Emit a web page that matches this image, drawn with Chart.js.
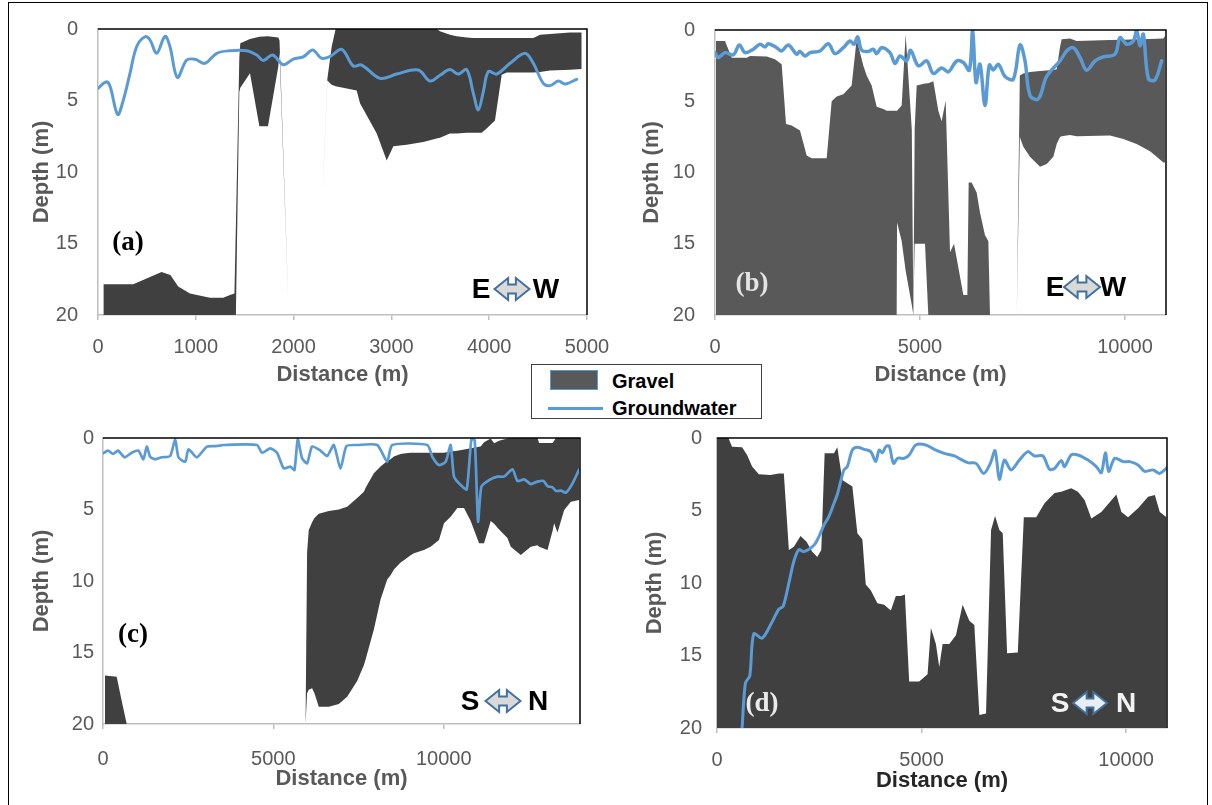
<!DOCTYPE html>
<html><head><meta charset="utf-8">
<script src="https://cdn.jsdelivr.net/npm/chart.js@4.4.0/dist/chart.umd.min.js"></script>
<style>
html,body{margin:0;padding:0;background:#fff;width:1212px;height:805px;overflow:hidden;font-family:"Liberation Sans",Arial,sans-serif;}
#frame{position:absolute;left:8px;top:2px;width:1200px;height:820px;border:1px solid #000;box-sizing:border-box;}
canvas{position:absolute;}
#legend{position:absolute;left:531px;top:364px;width:231px;height:55px;border:1px solid #404040;box-sizing:border-box;background:#fff;}
#legend .sw{position:absolute;left:18px;top:5px;width:48px;height:20px;background:#595959;border:1px solid #5b9bd5;box-sizing:border-box;}
#legend .ln{position:absolute;left:16px;top:42px;width:55px;height:3px;background:#5b9bd5;}
#legend .t{position:absolute;left:80px;font-weight:bold;font-size:20px;color:#000;line-height:20px;}
</style></head>
<body>
<div id="frame"></div>
<canvas id="ca" width="598" height="380" style="left:20px;top:10px"></canvas>
<canvas id="cb" width="560" height="380" style="left:620px;top:10px"></canvas>
<canvas id="cc" width="580" height="380" style="left:20px;top:420px"></canvas>
<canvas id="cd" width="560" height="380" style="left:620px;top:420px"></canvas>
<div id="legend"><span class="sw"></span><span class="t" style="top:6px">Gravel</span><span class="ln"></span><span class="t" style="top:33px">Groundwater</span></div>
<script>
// ---------- DATA ----------
const depthTicks = [0, 5, 10, 15, 20];
const aXTicks = [0, 1000, 2000, 3000, 4000, 5000];
const bXTicks = [0, 5000, 10000];
const cXTicks = [0, 5000, 10000];
const dXTicks = [0, 5000, 10000];

// Panel (a) E-W
const aGravelDist = [55,360,650,740,820,940,1145,1280,1350,1395,1410,1445,1455,1554,1650,1738,1844,1856,1950,2246,2345,2390,2430,2645,2679,2850,2952,3020,3156,3326,3463,3497,3599,3667,3770,3838,3923,3974,4059,4128,4179,4451,4520,4622,4826,4946];
const aGravelTop = [17.85,17.85,17.0,17.2,18.0,18.5,18.8,18.8,18.6,18.5,13.7,2.0,1.0,0.7,0.55,0.5,0.6,0.8,20,20,3.5,1.2,0,0,0,0,0,0,0,0,0,0.15,0.4,0.5,0.6,0.63,0.63,0.63,0.63,0.63,0.63,0.63,0.4,0.35,0.25,0.25];
const aGravelBase = [20,20,20,20,20,20,20,20,20,20,20,4.4,4.1,3.1,6.8,6.8,2.6,1.6,20,20,3.6,3.9,4.0,4.3,5.2,7.3,9.2,8.2,8.1,7.9,7.65,7.6,7.3,7.3,7.25,7.25,7.25,6.95,6.4,3.2,3.05,3.05,3.0,2.9,2.85,2.8];
const aWaterDist = [0,82,123,201,259,327,395,481,532,600,685,736,811,907,992,1094,1214,1350,1520,1623,1690,1786,1895,1997,2099,2195,2287,2372,2492,2611,2696,2883,3054,3275,3395,3497,3599,3684,3770,3838,3889,3940,3991,4077,4213,4366,4451,4553,4622,4707,4775,4894];
const aWaterDepth = [4.15,3.7,4.0,5.97,4.97,3.1,1.24,0.54,0.77,1.7,0.51,1.24,3.38,2.17,2.12,2.4,1.7,1.52,1.52,1.82,2.2,1.82,2.5,2.1,1.95,1.47,2.05,1.93,1.42,2.59,2.52,3.45,3.15,2.87,3.64,3.23,2.84,3.15,2.84,4.5,5.66,4.38,2.98,3.15,2.4,1.7,2.4,3.8,3.96,3.64,3.85,3.52];

// Panel (b) E-W
const bGravelDist = [24,244,407,773,854,1261,1463,1626,1732,1870,2073,2236,2358,2724,2846,2968,3130,3333,3455,3618,3699,3821,3943,4105,4187,4431,4440,4553,4650,4800,4838,4870,4919,5122,5203,5325,5447,5528,5626,5732,5830,6057,6155,6187,6260,6382,6463,6585,6667,6707,7360,7435,7520,7683,7927,8090,8252,8334,8415,8455,8659,8821,9634,9959,10284,10610,10772,10935,10975];
const bGravelTop = [0.77,0.77,1.94,1.94,1.82,1.86,2.05,2.4,6.6,6.7,7.06,8.8,9.0,9.0,5.0,4.66,4.5,3.9,0.65,2.5,3.2,3.9,5.38,5.55,5.67,5.67,5.67,5.3,0.3,7.0,19.8,7.0,3.9,3.75,3.73,3.6,5.67,6.4,4.96,15.6,15.0,18.6,18.6,10.7,10.7,11.4,12.8,14.4,14.8,20,20,3.2,3.05,2.95,2.87,2.85,2.8,2.75,1.2,0.65,0.6,0.77,0.7,0.68,0.65,0.63,0.62,0.6,0.42];
const bGravelBase = [20,20,20,20,20,20,20,20,20,20,20,20,20,20,20,20,20,20,20,20,20,20,20,20,20,20,13.5,14.8,16.9,19.3,20,15.0,15.0,15.0,20,20,20,20,20,20,20,20,20,20,20,20,20,20,20,20,20,7.5,8.2,8.9,9.6,9.4,8.9,8.0,7.5,7.45,7.37,7.45,7.4,7.65,8.0,8.5,8.9,9.3,9.3];
const bWaterDist = [0,81,244,447,594,732,935,1098,1220,1301,1504,1626,1789,1992,2073,2195,2317,2561,2764,2927,3130,3293,3390,3480,3577,3740,3862,3943,4065,4268,4390,4512,4675,4772,4960,5163,5325,5528,5691,5894,6057,6203,6284,6366,6463,6585,6691,6788,6910,7073,7276,7439,7561,7683,7886,8090,8415,8577,8740,8902,9065,9268,9471,9756,9878,10041,10203,10285,10366,10447,10569,10732,10894];
const bWaterDepth = [1.59,1.93,1.59,1.74,1.05,1.59,1.35,1.0,1.19,0.96,1.24,1.47,1.05,1.7,1.5,1.82,1.59,1.47,0.96,1.66,1.24,0.77,1.0,0.49,1.42,1.5,1.35,1.66,1.24,1.59,2.35,1.82,2.17,1.42,2.52,2.17,3.05,2.66,2.94,2.17,2.28,2.82,0.07,3.68,2.4,5.3,2.45,2.8,2.4,3.26,3.45,1.05,2.17,4.6,4.84,3.26,2.17,1.47,1.24,1.93,2.82,2.17,1.89,1.7,0.54,1.0,0.77,0.02,1.1,0.3,3.4,3.5,2.17];

// Panel (c) S-N
const cGravelDist = [59,402,550,696,5945,5990,6039,6137,6206,6333,6627,6921,7166,7460,7656,7705,7950,8146,8342,8440,8538,8734,8832,9028,9126,9420,9616,9861,10008,10204,10400,10596,10792,11037,11086,11184,11380,11478,11625,11870,11968,12262,12556,12654,12752,12800,13046,13194,13242,13290,13340,13536,13732,13977];
const cGravelTop = [16.6,16.7,18.4,20,20,8.0,6.43,5.9,5.6,5.3,5.1,5.0,4.8,4.2,3.75,3.5,2.47,2.0,1.6,1.49,1.3,1.12,1.08,1.03,1.03,1.03,1.03,1.03,1.03,0.95,0.89,0.8,0.72,0.62,0.6,0.3,0.03,0.37,0.2,0.03,0,0,0,0,0,0.35,0.35,0.35,0.2,0,0,0,0,0];
const cGravelBase = [20,20,20,20,20,17.85,17.6,17.5,17.85,18.8,18.8,18.6,18.1,17.0,15.9,15.5,13.4,11.3,9.9,9.6,9.2,8.7,8.55,8.2,8.06,7.83,7.6,7.13,5.97,5.5,4.9,4.9,5.8,7.36,7.36,7.36,5.8,6.0,6.4,7.0,7.6,8.18,7.6,7.55,7.5,7.6,7.83,6.5,5.97,6.3,6.6,5.03,4.45,4.33];
const cWaterDist = [0,147,294,441,637,843,1040,1187,1285,1383,1530,1725,1971,2118,2216,2412,2510,2755,3049,3343,3540,4520,4667,4912,5108,5304,5500,5618,5716,5843,5990,6137,6382,6578,6774,6970,7146,7460,8048,8342,8489,9518,9665,9861,10057,10204,10302,10498,10674,10812,10910,11008,11106,11331,11576,11772,12017,12164,12360,12556,12752,12929,13046,13194,13292,13439,13586,13782,13977];
const cWaterDepth = [1.07,0.88,1.12,0.88,1.35,1.03,0.88,1.49,0.6,1.31,1.49,1.35,1.26,0.1,1.35,1.66,0.79,1.35,0.6,0.56,0.49,0.49,1.03,0.72,1.03,2.12,2.0,2.24,0.1,1.42,1.77,0.6,0.88,1.26,0.49,2.14,0.56,0.49,0.49,1.66,0.49,0.49,1.31,1.89,1.66,0.49,2.7,3.29,3.59,0.1,0.14,5.85,3.4,2.94,2.7,2.7,2.19,3.0,2.89,3.22,3.05,3.0,3.36,3.45,3.7,3.68,3.82,3.17,2.19];

// Panel (d) S-N (gravel extends to 20 m)
const dGravelDist = [0,278,368,613,735,858,1022,1307,1512,1634,1757,1879,2042,2189,2328,2451,2549,2631,2860,2941,3064,3309,3431,3554,3636,3758,3922,4086,4249,4372,4494,4593,4698,4943,5147,5229,5351,5433,5515,5678,5841,6004,6168,6290,6413,6576,6699,6797,6903,6985,7091,7353,7500,7802,8006,8251,8414,8659,8823,8986,9150,9395,9762,9885,10048,10293,10538,10702,10824,10988];
const dGravelTop = [0,0,0.6,0.64,1.17,1.97,2.5,2.55,2.44,2.44,7.72,7.5,6.76,7.15,7.84,8.2,7.72,1.06,1.06,0.64,2.9,3.35,6.57,7.0,10.1,10.5,11.4,11.5,11.9,10.9,10.9,10.8,16.8,16.8,16.3,13.1,14.2,15.8,14.2,14.2,13.6,11.5,12.6,12.9,19.1,19.0,6.34,5.38,6.34,6.57,14.85,14.8,5.47,5.47,4.5,3.8,3.7,3.47,3.7,4.27,5.55,5.1,3.9,5.1,5.47,4.85,4.05,3.93,5.1,5.47];
const dWaterDist = [613,695,801,899,1103,1307,1512,1618,1757,1879,2001,2124,2369,2491,2614,2737,2860,2941,3023,3104,3186,3309,3431,3595,3758,3880,3962,4044,4126,4208,4314,4412,4576,4698,4861,5106,5310,5555,5800,6127,6331,6519,6682,6797,6903,7026,7189,7393,7598,7761,7965,8128,8251,8414,8496,8659,8823,9068,9272,9395,9493,9575,9722,9926,10089,10293,10456,10660,10824,11028];
const dWaterDepth = [20.0,16.9,16.4,13.5,13.8,12.9,11.8,11.6,10.0,8.5,7.7,7.84,7.4,6.8,6.0,5.4,4.5,3.9,3.0,2.2,1.97,0.83,0.64,0.78,0.94,1.63,0.83,1.01,0.6,0.55,1.75,1.4,1.4,1.17,0.48,0.48,0.78,1.06,1.24,1.7,1.75,2.44,1.75,0.87,2.85,1.52,2.2,1.52,0.94,1.24,1.24,2.16,2.1,1.56,1.97,1.17,1.17,1.52,1.97,2.39,1.01,2.3,1.4,1.63,1.63,1.86,2.3,2.2,2.44,1.97];

// ---------- DRAWING ----------
const TICK_FONT = {family: '"Liberation Sans", Arial, sans-serif', size: 20};
const TITLE_FONT = {family: '"Liberation Sans", Arial, sans-serif', size: 22, weight: 'bold'};

function drawArrow(ctx, cx, cy, w, h, fill) {
  const hl = h * 0.62, sh = h * 0.2;
  const l = cx - w / 2, r = cx + w / 2;
  ctx.beginPath();
  ctx.moveTo(l, cy);
  ctx.lineTo(l + hl, cy - h / 2);
  ctx.lineTo(l + hl, cy - sh);
  ctx.lineTo(r - hl, cy - sh);
  ctx.lineTo(r - hl, cy - h / 2);
  ctx.lineTo(r, cy);
  ctx.lineTo(r - hl, cy + h / 2);
  ctx.lineTo(r - hl, cy + sh);
  ctx.lineTo(l + hl, cy + sh);
  ctx.lineTo(l + hl, cy + h / 2);
  ctx.closePath();
  ctx.fillStyle = fill;
  ctx.fill();
  ctx.lineWidth = 2;
  ctx.strokeStyle = '#41719c';
  ctx.stroke();
}

const panelDeco = {
  id: 'panelDeco',
  afterDraw(chart, args, o) {
    const ctx = chart.ctx, a = chart.chartArea;
    ctx.save();
    ctx.strokeStyle = '#000';
    ctx.lineWidth = 1.5;
    ctx.beginPath();
    ctx.moveTo(a.left, a.top);
    ctx.lineTo(a.right, a.top);
    ctx.lineTo(a.right, a.bottom);
    ctx.stroke();
    ctx.textAlign = 'center';
    ctx.textBaseline = 'middle';
    ctx.font = 'bold 27px "Liberation Serif", "Times New Roman", serif';
    ctx.fillStyle = o.labelColor;
    ctx.fillText(o.label, o.labelX, o.labelY);
    ctx.font = 'bold 28px "Liberation Sans", Arial, sans-serif';
    ctx.fillStyle = o.dirColor;
    ctx.fillText(o.from, o.fromX, o.dirY);
    ctx.fillText(o.to, o.toX, o.dirY);
    drawArrow(ctx, o.arrowX, o.dirY - 1, o.arrowW, 22, o.arrowFill);
    ctx.restore();
  }
};

function pts(xs, ys) { return xs.map((x, i) => ({x: x, y: ys[i]})); }

function build(id, p) {
  const ds = [];
  ds.push({label: 'Gravel top', data: pts(p.gDist, p.gTop), borderWidth: 0, borderColor: 'rgba(0,0,0,0)',
    pointRadius: 0, backgroundColor: p.gColor, fill: p.gBase ? false : {value: 20}, tension: 0, order: 2});
  if (p.gBase) ds.push({label: 'Gravel', data: pts(p.gDist, p.gBase), borderWidth: 0, borderColor: 'rgba(0,0,0,0)',
    pointRadius: 0, backgroundColor: p.gColor, fill: '-1', tension: 0, order: 1});
  ds.push({label: 'Groundwater', data: pts(p.wDist, p.wDepth), borderColor: '#5b9bd5', borderWidth: p.wWidth,
    pointRadius: 0, fill: false, tension: p.tension, order: 0, borderJoinStyle: 'round', borderCapStyle: 'round'});
  return new Chart(document.getElementById(id), {
    type: 'line',
    data: {datasets: ds},
    plugins: [panelDeco],
    options: {
      responsive: false, animation: false, devicePixelRatio: 1,
      layout: {padding: {left: 0, right: p.padR, top: p.padT, bottom: 0}},
      plugins: {legend: {display: false}, tooltip: {enabled: false}, panelDeco: p.deco},
      scales: {
        x: {
          type: 'linear', min: 0, max: p.xMax,
          afterBuildTicks: s => { s.ticks = p.xTicks.map(v => ({value: v})); },
          afterFit: s => { s.height = p.xH; s.paddingLeft = 0; s.paddingRight = 0; },
          ticks: {font: TICK_FONT, color: '#595959', padding: p.xTickPad, autoSkip: false, maxRotation: 0, callback: v => String(v)},
          grid: {drawOnChartArea: false, drawTicks: true, tickLength: 5, color: '#bfbfbf', lineWidth: 1.5},
          border: {display: true, color: '#bfbfbf', width: 1.5},
          title: {display: true, text: 'Distance (m)', font: TITLE_FONT, color: p.xTitleColor, padding: {top: 0, bottom: p.xTitlePad}}
        },
        y: {
          type: 'linear', min: 0, max: 20, reverse: true,
          afterBuildTicks: s => { s.ticks = depthTicks.map(v => ({value: v})); },
          afterFit: s => { s.width = p.yW; s.paddingTop = 0; s.paddingBottom = 0; },
          ticks: {font: TICK_FONT, color: '#595959', padding: p.yTickPad, callback: v => String(v)},
          grid: {display: false, drawTicks: false},
          border: {display: true, color: '#bfbfbf', width: 1.5},
          title: {display: true, text: 'Depth (m)', font: TITLE_FONT, color: '#595959', padding: {top: p.yTitlePad, bottom: 0}}
        }
      }
    }
  });
}

build('ca', {gDist: aGravelDist, gTop: aGravelTop, gBase: aGravelBase, gColor: '#404040',
  wDist: aWaterDist, wDepth: aWaterDepth, wWidth: 3, tension: 0.35, xMax: 5000, xTicks: aXTicks,
  padR: 31, padT: 19, xH: 75, yW: 78, xTickPad: 15, xTitlePad: 2, yTickPad: 20, yTitlePad: 9, xTitleColor: '#595959',
  deco: {label: '(a)', labelX: 108, labelY: 233, labelColor: '#000', from: 'E', to: 'W', fromX: 461, toX: 526, dirY: 280, arrowX: 492, arrowW: 35, dirColor: '#000', arrowFill: '#d9d9d9'}});

build('cb', {gDist: bGravelDist, gTop: bGravelTop, gBase: bGravelBase, gColor: '#595959',
  wDist: bWaterDist, wDepth: bWaterDepth, wWidth: 3.5, tension: 0.35, xMax: 11000, xTicks: bXTicks,
  padR: 14, padT: 20, xH: 75, yW: 95, xTickPad: 15, xTitlePad: 2, yTickPad: 20, yTitlePad: 19, xTitleColor: '#595959',
  deco: {label: '(b)', labelX: 132, labelY: 274, labelColor: '#e3e3e3', from: 'E', to: 'W', fromX: 435, toX: 493, dirY: 278, arrowX: 462, arrowW: 36, dirColor: '#000', arrowFill: '#d9d9d9'}});

build('cc', {gDist: cGravelDist, gTop: cGravelTop, gBase: cGravelBase, gColor: '#404040',
  wDist: cWaterDist, wDepth: cWaterDepth, wWidth: 2.7, tension: 0.2, xMax: 14000, xTicks: cXTicks,
  padR: 20, padT: 18, xH: 76, yW: 83, xTickPad: 18, xTitlePad: 8, yTickPad: 9, yTitlePad: 9, xTitleColor: '#595959',
  deco: {label: '(c)', labelX: 113, labelY: 215, labelColor: '#000', from: 'S', to: 'N', fromX: 450, toX: 518, dirY: 282, arrowX: 483, arrowW: 35, dirColor: '#000', arrowFill: '#d9d9d9'}});

build('cd', {gDist: dGravelDist, gTop: dGravelTop, gBase: null, gColor: '#404040',
  wDist: dWaterDist, wDepth: dWaterDepth, wWidth: 3, tension: 0.3, xMax: 11000, xTicks: dXTicks,
  padR: 13, padT: 18, xH: 72, yW: 97, xTickPad: 15, xTitlePad: 6, yTickPad: 15, yTitlePad: 22, xTitleColor: '#262626',
  deco: {label: '(d)', labelX: 142, labelY: 284, labelColor: '#eaeaea', from: 'S', to: 'N', fromX: 440, toX: 506, dirY: 284, arrowX: 470, arrowW: 34, dirColor: '#f2f2f2', arrowFill: '#e8eef5'}});
</script>
</body></html>
